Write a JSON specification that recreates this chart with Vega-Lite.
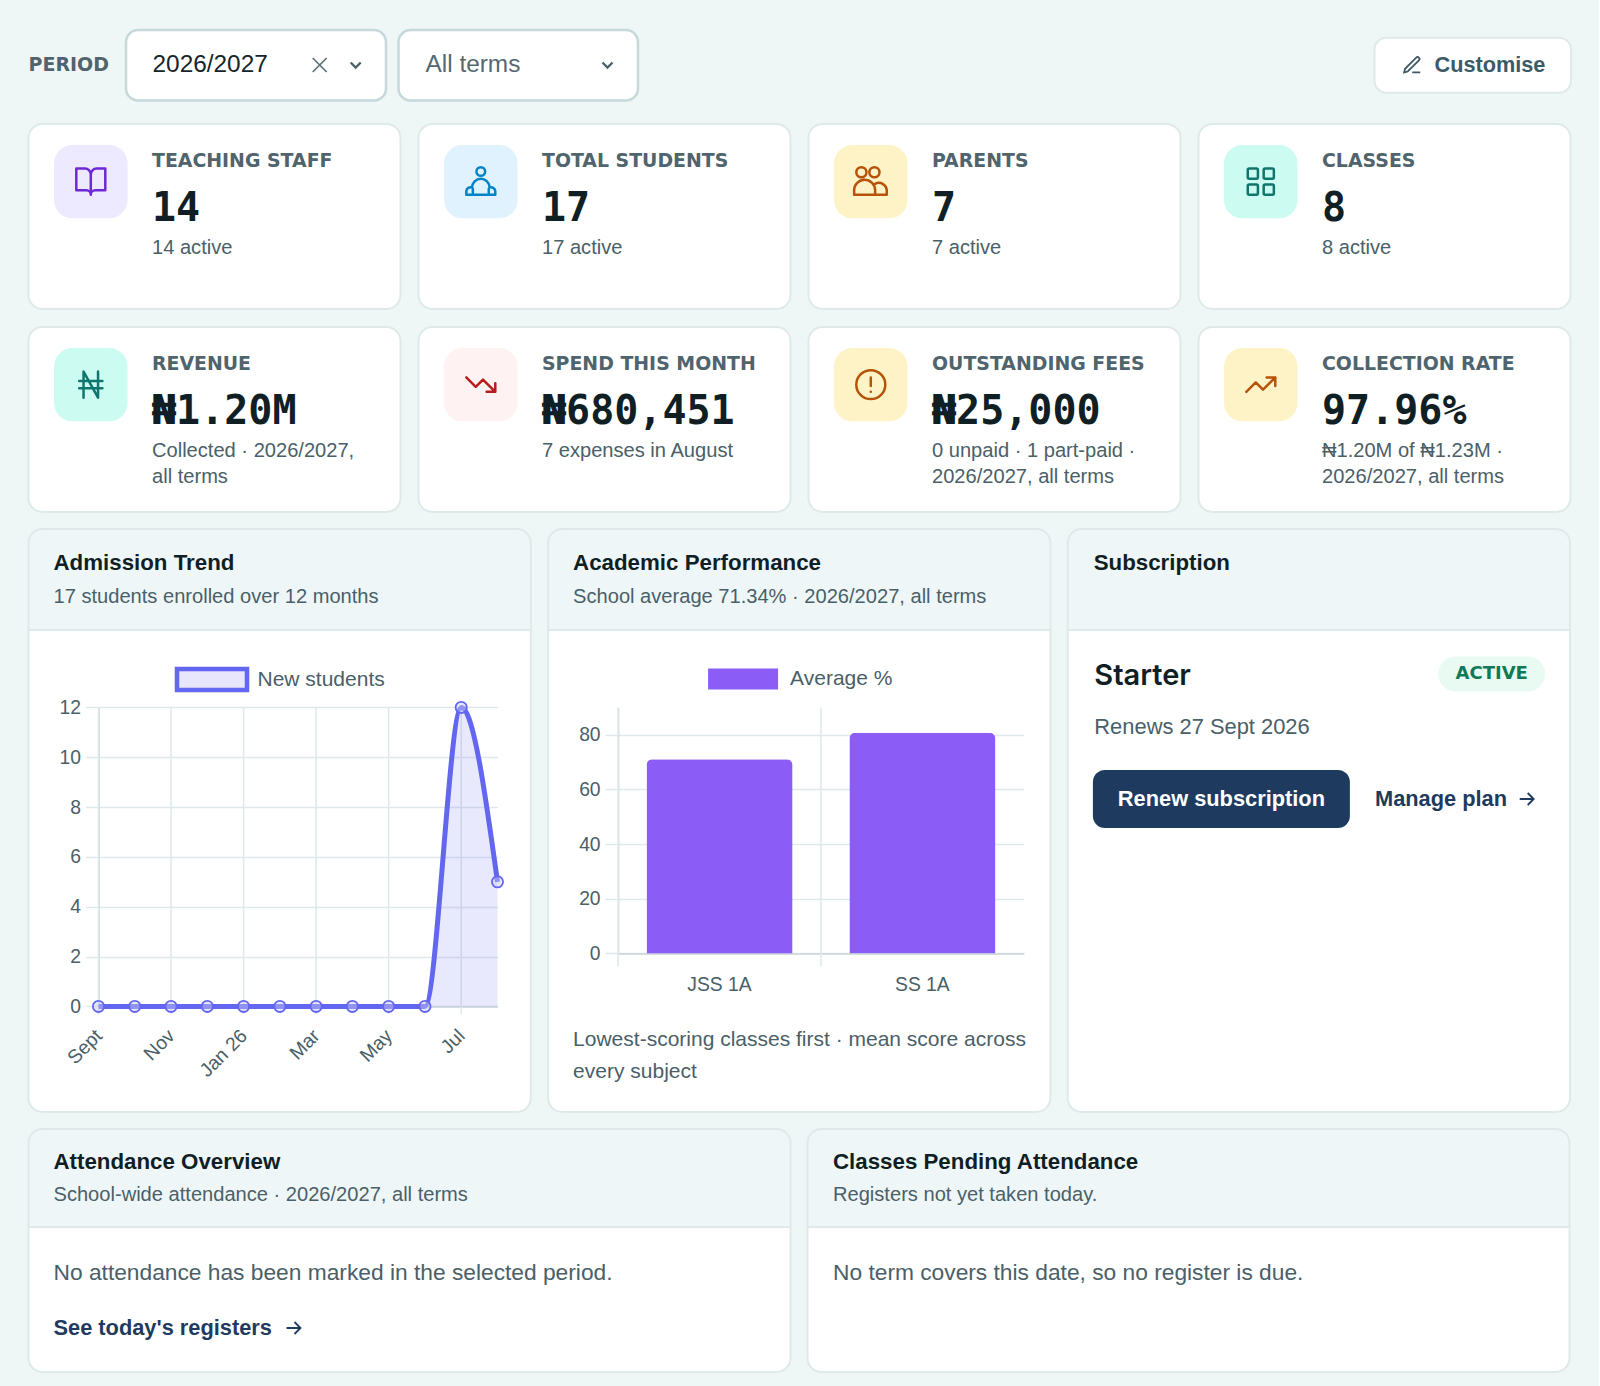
{
  "$schema": "https://vega.github.io/schema/vega-lite/v6.json",
  "description": "School dashboard overview",
  "background": "#eff7f6",
  "padding": {"left": 27.5, "top": 28, "right": 26, "bottom": 13},
  "config": {"font": "Liberation Sans", "view": {"stroke": null}, "scale": {"pointPadding": 0}},
  "resolve": {"scale": {"color": "independent", "stroke": "independent", "fill": "independent", "shape": "independent"}},
  "datasets": {
    "filters": [
      {"filter": "period", "label": "2026/2027"},
      {"filter": "term", "label": "All terms"}
    ],
    "kpi": [
      {"tier": "people", "slot": 1, "icon": "book", "tone": "violet", "label": "TEACHING STAFF", "value": "14", "note1": "14 active", "note2": ""},
      {"tier": "people", "slot": 2, "icon": "student", "tone": "sky", "label": "TOTAL STUDENTS", "value": "17", "note1": "17 active", "note2": ""},
      {"tier": "people", "slot": 3, "icon": "people", "tone": "amber", "label": "PARENTS", "value": "7", "note1": "7 active", "note2": ""},
      {"tier": "people", "slot": 4, "icon": "grid", "tone": "mint", "label": "CLASSES", "value": "8", "note1": "8 active", "note2": ""},
      {"tier": "money", "slot": 1, "icon": "naira", "tone": "mint", "label": "REVENUE", "value": "₦1.20M", "note1": "Collected · 2026/2027,", "note2": "all terms"},
      {"tier": "money", "slot": 2, "icon": "down", "tone": "rose", "label": "SPEND THIS MONTH", "value": "₦680,451", "note1": "7 expenses in August", "note2": ""},
      {"tier": "money", "slot": 3, "icon": "alert", "tone": "amber", "label": "OUTSTANDING FEES", "value": "₦25,000", "note1": "0 unpaid · 1 part-paid ·", "note2": "2026/2027, all terms"},
      {"tier": "money", "slot": 4, "icon": "up", "tone": "amber", "label": "COLLECTION RATE", "value": "97.96%", "note1": "₦1.20M of ₦1.23M ·", "note2": "2026/2027, all terms"}
    ],
    "panels": [
      {"panel": "admission", "title": "Admission Trend", "subtitle": "17 students enrolled over 12 months"},
      {"panel": "academic", "title": "Academic Performance", "subtitle": "School average 71.34% · 2026/2027, all terms"},
      {"panel": "subscription", "title": "Subscription", "subtitle": ""},
      {"panel": "attendance", "title": "Attendance Overview", "subtitle": "School-wide attendance · 2026/2027, all terms"},
      {"panel": "pending", "title": "Classes Pending Attendance", "subtitle": "Registers not yet taken today."}
    ],
    "admissions": [
      {"month": "Sept", "students": 0, "series": "New students"},
      {"month": "Oct", "students": 0, "series": "New students"},
      {"month": "Nov", "students": 0, "series": "New students"},
      {"month": "Dec", "students": 0, "series": "New students"},
      {"month": "Jan 26", "students": 0, "series": "New students"},
      {"month": "Feb", "students": 0, "series": "New students"},
      {"month": "Mar", "students": 0, "series": "New students"},
      {"month": "Apr", "students": 0, "series": "New students"},
      {"month": "May", "students": 0, "series": "New students"},
      {"month": "Jun", "students": 0, "series": "New students"},
      {"month": "Jul", "students": 12, "series": "New students"},
      {"month": "Aug", "students": 5, "series": "New students"}
    ],
    "classes": [
      {"class": "JSS 1A", "average": 71, "series": "Average %"},
      {"class": "SS 1A", "average": 80.7, "series": "Average %"}
    ],
    "subscription": [
      {"plan": "Starter", "status": "ACTIVE", "renews": "Renews 27 Sept 2026", "action": "Renew subscription", "link": "Manage plan"}
    ],
    "attendance": [
      {"message": "No attendance has been marked in the selected period.", "link": "See today's registers"}
    ],
    "pending": [
      {"message": "No term covers this date, so no register is due."}
    ]
  },
  "vconcat": [
    {
      "hconcat": [
        {
          "width": 84.5,
          "height": 70.5,
          "data": {"values": [{"label": "PERIOD"}]},
          "mark": {"type": "text", "align": "left", "baseline": "middle", "font": "DejaVu Sans", "fontWeight": "bold", "fontSize": 19, "color": "#4f646c"},
          "encoding": {
            "x": {"datum": "label", "scale": {"domain": ["label"], "range": [0, 0]}, "axis": null},
            "y": {"datum": "label", "scale": {"domain": ["label"], "range": [35, 35]}, "axis": null},
            "text": {"field": "label"}
          }
        },
        {
          "width": 260,
          "height": 70.5,
          "view": {"fill": "#ffffff", "stroke": "#c5d8da", "strokeWidth": 2.5, "cornerRadius": 12},
          "data": {"name": "filters"},
          "transform": [{"filter": "datum.filter == 'period'"}],
          "encoding": {
            "y": {"datum": "row", "scale": {"domain": ["row"], "range": [35, 35]}, "axis": null}
          },
          "layer": [
            {
              "mark": {"type": "text", "align": "left", "baseline": "middle", "fontSize": 24.4, "color": "#16252a"},
              "encoding": {
                "x": {"datum": "value", "scale": {"domain": ["value", "caret"], "range": [26.5, 229.7]}, "axis": null},
                "text": {"field": "label"}
              }
            },
            {
              "mark": {"type": "point", "shape": "M-7-7L7 7M-7 7L7-7", "size": 4, "filled": false, "opacity": 1, "color": "#5c7076", "strokeWidth": 1.7, "xOffset": -36},
              "encoding": {"x": {"datum": "caret", "scale": {"domain": ["value", "caret"], "range": [26.5, 229.7]}, "axis": null}}
            },
            {
              "mark": {"type": "point", "shape": "M-5-2.5L0 2.5L5-2.5", "size": 4, "filled": false, "opacity": 1, "color": "#4a616b", "strokeWidth": 2.3},
              "encoding": {"x": {"datum": "caret", "scale": {"domain": ["value", "caret"], "range": [26.5, 229.7]}, "axis": null}}
            }
          ]
        },
        {
          "width": 239.5,
          "height": 70.5,
          "view": {"fill": "#ffffff", "stroke": "#c5d8da", "strokeWidth": 2.5, "cornerRadius": 12},
          "data": {"name": "filters"},
          "transform": [{"filter": "datum.filter == 'term'"}],
          "encoding": {
            "y": {"datum": "row", "scale": {"domain": ["row"], "range": [35, 35]}, "axis": null}
          },
          "layer": [
            {
              "mark": {"type": "text", "align": "left", "baseline": "middle", "fontSize": 24.4, "color": "#54696f"},
              "encoding": {
                "x": {"datum": "value", "scale": {"domain": ["value", "caret"], "range": [27, 209]}, "axis": null},
                "text": {"field": "label"}
              }
            },
            {
              "mark": {"type": "point", "shape": "M-5-2.5L0 2.5L5-2.5", "size": 4, "filled": false, "opacity": 1, "color": "#4a616b", "strokeWidth": 2.3},
              "encoding": {"x": {"datum": "caret", "scale": {"domain": ["value", "caret"], "range": [27, 209]}, "axis": null}}
            }
          ]
        },
        {
          "width": 711,
          "height": 70.5,
          "data": {"values": [{"gap": ""}]},
          "mark": {"type": "text"}
        },
        {
          "width": 196.5,
          "height": 70.5,
          "data": {"values": [{"label": "Customise"}]},
          "encoding": {
            "y": {"datum": "button", "scale": {"domain": ["button"], "paddingInner": 0, "paddingOuter": 0.14}, "axis": null}
          },
          "layer": [
            {"mark": {"type": "rect", "fill": "#ffffff", "stroke": "#dfe9ea", "strokeWidth": 2, "cornerRadius": 12}},
            {
              "mark": {"type": "point", "shape": "M0 8H9M4.5-8.5A2.12 2.12 0 0 1 7.5-5.5L-5 7L-9 8L-8 4Z", "size": 3.2, "filled": false, "opacity": 1, "color": "#3f5a64", "strokeWidth": 1.8},
              "encoding": {"x": {"datum": "icon", "scale": {"domain": ["icon", "text"], "range": [37.7, 60]}, "axis": null}}
            },
            {
              "mark": {"type": "text", "align": "left", "baseline": "middle", "fontWeight": "bold", "fontSize": 21.7, "color": "#3c5a66"},
              "encoding": {
                "x": {"datum": "text", "scale": {"domain": ["icon", "text"], "range": [37.7, 60]}, "axis": null},
                "text": {"field": "label"}
              }
            }
          ]
        }
      ],
      "spacing": 12.5,
      "bounds": "flush"
    },
    {
      "vconcat": [
        {
          "data": {"name": "kpi"},
          "spacing": 18,
          "bounds": "flush",
          "facet": {
            "row": {"field": "tier", "type": "nominal", "sort": ["people", "money"], "header": null},
            "column": {"field": "slot", "type": "ordinal", "header": null}
          },
          "spec": {
            "width": 372,
            "height": 185,
            "view": {"fill": "#ffffff", "stroke": "#dfe9ea", "strokeWidth": 2, "cornerRadius": 14},
            "layer": [
              {
                "mark": {"type": "point", "shape": "M-0.5-1H0.5A0.5 0.5 0 0 1 1-0.5V0.5A0.5 0.5 0 0 1 0.5 1H-0.5A0.5 0.5 0 0 1-1 0.5V-0.5A0.5 0.5 0 0 1-0.5-1Z", "size": 5402, "filled": true, "opacity": 1, "strokeWidth": 0, "yOffset": -7.25},
                "encoding": {
                  "x": {"datum": "icon", "scale": {"domain": ["icon", "text"], "range": [62.3, 123.5]}, "axis": null},
                  "y": {"datum": "icon", "scale": {"domain": ["label", "icon", "value", "note1", "note2"], "range": [36.5, 150]}, "axis": null},
                  "fill": {"field": "tone", "type": "nominal", "legend": null, "scale": {"domain": ["violet", "sky", "amber", "mint", "rose"], "range": ["#ede9fe", "#e0f2fe", "#fef3c7", "#ccfbf1", "#fef2f2"]}}
                }
              },
              {
                "mark": {"type": "point", "size": 8.4, "filled": false, "opacity": 1, "strokeWidth": 2.5, "strokeCap": "round", "strokeJoin": "round", "yOffset": -7.25},
                "encoding": {
                  "x": {"datum": "icon", "scale": {"domain": ["icon", "text"], "range": [62.3, 123.5]}, "axis": null},
                  "y": {"datum": "icon", "scale": {"domain": ["label", "icon", "value", "note1", "note2"], "range": [36.5, 150]}, "axis": null},
                  "stroke": {"field": "tone", "type": "nominal", "legend": null, "scale": {"domain": ["violet", "sky", "amber", "mint", "rose"], "range": ["#6d28d9", "#0284c7", "#b45309", "#0f766e", "#b91c1c"]}},
                  "shape": {
                    "field": "icon",
                    "type": "nominal",
                    "legend": null,
                    "scale": {
                      "domain": ["book", "student", "people", "grid", "naira", "down", "alert", "up"],
                      "range": [
                        "M-10-9H-4A4 4 0 0 1 0-5V9A3 3 0 0 0-3 6H-10ZM10-9H4A4 4 0 0 0 0-5V9A3 3 0 0 1 3 6H10Z",
                        "M3-7A3 3 0 1 1-3-7A3 3 0 1 1 3-7ZM-10 9H10V6.5A3 3 0 0 0 6 4A6 6 0 0 0-6 4A3 3 0 0 0-10 6.5ZM-5.5 9V5M5.5 9V5",
                        "M-3-6.5A3.5 3.5 0 1 1-10-6.5A3.5 3.5 0 1 1-3-6.5ZM6-6.5A3.5 3.5 0 1 1-1-6.5A3.5 3.5 0 1 1 6-6.5ZM-11.5 9H3V6A7.2 7.2 0 0 0-11.5 6ZM3 9H11V6.5A5.5 5.5 0 0 0 3 1.5",
                        "M-8-9H-3A1 1 0 0 1-2-8V-3A1 1 0 0 1-3-2H-8A1 1 0 0 1-9-3V-8A1 1 0 0 1-8-9ZM3-9H8A1 1 0 0 1 9-8V-3A1 1 0 0 1 8-2H3A1 1 0 0 1 2-3V-8A1 1 0 0 1 3-9ZM-8 2H-3A1 1 0 0 1-2 3V8A1 1 0 0 1-3 9H-8A1 1 0 0 1-9 8V3A1 1 0 0 1-8 2ZM3 2H8A1 1 0 0 1 9 3V8A1 1 0 0 1 8 9H3A1 1 0 0 1 2 8V3A1 1 0 0 1 3 2Z",
                        "M-5 9V-9L5 9V-9M-8-2.5H8M-8 2.5H8",
                        "M10 5L1.5-3.5L-3.5 1.5L-10-5M4 5H10V-1",
                        "M10 0A10 10 0 1 1-10 0A10 10 0 1 1 10 0ZM0-5V1M0 5H0.01",
                        "M10-5L1.5 3.5L-3.5-1.5L-10 5M4-5H10V1"
                      ]
                    }
                  }
                }
              },
              {
                "mark": {"type": "text", "align": "left", "baseline": "middle", "font": "DejaVu Sans", "fontWeight": "bold", "fontSize": 18.9, "color": "#4f646c"},
                "encoding": {
                  "x": {"datum": "text", "scale": {"domain": ["icon", "text"], "range": [62.3, 123.5]}, "axis": null},
                  "y": {"datum": "label", "scale": {"domain": ["label", "icon", "value", "note1", "note2"], "range": [36.5, 150]}, "axis": null},
                  "text": {"field": "label"}
                }
              },
              {
                "mark": {"type": "text", "align": "left", "baseline": "middle", "font": "DejaVu Sans Mono", "fontWeight": "bold", "fontSize": 40, "color": "#0f1f24", "dy": -8},
                "encoding": {
                  "x": {"datum": "text", "scale": {"domain": ["icon", "text"], "range": [62.3, 123.5]}, "axis": null},
                  "y": {"datum": "value", "scale": {"domain": ["label", "icon", "value", "note1", "note2"], "range": [36.5, 150]}, "axis": null},
                  "text": {"field": "value"}
                }
              },
              {
                "mark": {"type": "text", "align": "left", "baseline": "middle", "fontSize": 20.1, "color": "#4a6068", "dy": 2},
                "encoding": {
                  "x": {"datum": "text", "scale": {"domain": ["icon", "text"], "range": [62.3, 123.5]}, "axis": null},
                  "y": {"datum": "note1", "scale": {"domain": ["label", "icon", "value", "note1", "note2"], "range": [36.5, 150]}, "axis": null},
                  "text": {"field": "note1"}
                }
              },
              {
                "mark": {"type": "text", "align": "left", "baseline": "middle", "fontSize": 20.1, "color": "#4a6068"},
                "encoding": {
                  "x": {"datum": "text", "scale": {"domain": ["icon", "text"], "range": [62.3, 123.5]}, "axis": null},
                  "y": {"datum": "note2", "scale": {"domain": ["label", "icon", "value", "note1", "note2"], "range": [36.5, 150]}, "axis": null},
                  "text": {"field": "note2"}
                }
              }
            ]
          }
        },
        {
          "hconcat": [
            {
              "vconcat": [
                {
                  "width": 502.3,
                  "height": 101,
                  "view": {"fill": "#eff6f8", "stroke": "#dfe9ea", "strokeWidth": 2, "cornerRadiusTopLeft": 14, "cornerRadiusTopRight": 14},
                  "data": {"name": "panels"},
                  "transform": [{"filter": "datum.panel == 'admission'"}],
                  "encoding": {
                    "x": {"datum": "text", "scale": {"domain": ["text"], "range": [25, 25]}, "axis": null}
                  },
                  "layer": [
                    {
                      "mark": {"type": "text", "align": "left", "baseline": "middle", "fontWeight": "bold", "fontSize": 22.3, "color": "#0f1f24"},
                      "encoding": {
                        "y": {"datum": "title", "scale": {"domain": ["title", "subtitle"], "range": [33.5, 67.5]}, "axis": null},
                        "text": {"field": "title"}
                      }
                    },
                    {
                      "mark": {"type": "text", "align": "left", "baseline": "middle", "fontSize": 20.1, "color": "#4a6068"},
                      "encoding": {
                        "y": {"datum": "subtitle", "scale": {"domain": ["title", "subtitle"], "range": [33.5, 67.5]}, "axis": null},
                        "text": {"field": "subtitle"}
                      }
                    }
                  ]
                },
                {
                  "width": 502.3,
                  "height": 482,
                  "view": {"fill": "#ffffff", "stroke": "#dfe9ea", "strokeWidth": 2, "cornerRadiusBottomLeft": 14, "cornerRadiusBottomRight": 14},
                  "data": {"name": "admissions"},
                  "encoding": {
                    "x": {
                      "field": "month",
                      "type": "ordinal",
                      "scale": {
                        "type": "point",
                        "domain": ["Sept", "Oct", "Nov", "Dec", "Jan 26", "Feb", "Mar", "Apr", "May", "Jun", "Jul", "Aug"],
                        "range": [70, 469]
                      },
                      "axis": {
                        "title": null,
                        "offset": -105.6,
                        "values": ["Sept", "Nov", "Jan 26", "Mar", "May", "Jul"],
                        "labelAngle": -45,
                        "labelAlign": "right",
                        "labelBaseline": "middle",
                        "labelFontSize": 19.3,
                        "labelColor": "#4a6068",
                        "labelPadding": 26,
                        "ticks": false,
                        "domainColor": "#c9d5d8",
                        "domainWidth": 1.5,
                        "grid": false
                      }
                    },
                    "y": {
                      "field": "students",
                      "type": "quantitative",
                      "scale": {"domain": [0, 12], "range": [376.4, 77.4]},
                      "axis": {
                        "title": null,
                        "offset": -70,
                        "values": [0, 2, 4, 6, 8, 10, 12],
                        "labelFontSize": 19.3,
                        "labelColor": "#4a6068",
                        "labelPadding": 5,
                        "tickSize": 13,
                        "tickColor": "#dfe8ea",
                        "tickWidth": 1.5,
                        "domainColor": "#c9d5d8",
                        "domainWidth": 1.5,
                        "grid": true,
                        "gridColor": "#dfe8ea",
                        "gridWidth": 1.5
                      }
                    }
                  },
                  "layer": [
                    {
                      "transform": [{"filter": {"field": "month", "oneOf": ["Sept", "Nov", "Jan 26", "Mar", "May", "Jul"]}}],
                      "mark": {"type": "rule", "color": "#dfe8ea", "strokeWidth": 1.5},
                      "encoding": {
                        "y": {"datum": -0.32, "type": "quantitative", "title": null, "scale": {"domain": [0, 12], "range": [376.4, 77.4]}},
                        "y2": {"datum": 12}
                      }
                    },
                    {"mark": {"type": "area", "interpolate": "monotone", "color": "#6366f1", "opacity": 0.14}},
                    {
                      "mark": {"type": "line", "interpolate": "monotone", "strokeWidth": 5},
                      "encoding": {
                        "stroke": {
                          "field": "series",
                          "type": "nominal",
                          "scale": {"range": ["#6366f1"]},
                          "legend": {
                            "title": null,
                            "orient": "none",
                            "legendX": 146,
                            "legendY": 12,
                            "symbolType": "M-1-0.3H1V0.3H-1Z",
                            "symbolSize": 4900,
                            "symbolFillColor": "#e7e6fc",
                            "symbolStrokeWidth": 4.5,
                            "labelOffset": 8,
                            "labelFontSize": 21,
                            "labelColor": "#4a6068"
                          }
                        }
                      }
                    },
                    {"mark": {"type": "point", "filled": true, "size": 125, "opacity": 1, "fill": "#c9c9f9", "fillOpacity": 0.45, "stroke": "#6366f1", "strokeWidth": 1.8}}
                  ]
                }
              ],
              "spacing": 0,
              "bounds": "flush",
              "resolve": {"scale": {"stroke": "independent", "color": "independent"}}
            },
            {
              "vconcat": [
                {
                  "width": 502.3,
                  "height": 101,
                  "view": {"fill": "#eff6f8", "stroke": "#dfe9ea", "strokeWidth": 2, "cornerRadiusTopLeft": 14, "cornerRadiusTopRight": 14},
                  "data": {"name": "panels"},
                  "transform": [{"filter": "datum.panel == 'academic'"}],
                  "encoding": {
                    "x": {"datum": "text", "scale": {"domain": ["text"], "range": [25, 25]}, "axis": null}
                  },
                  "layer": [
                    {
                      "mark": {"type": "text", "align": "left", "baseline": "middle", "fontWeight": "bold", "fontSize": 22.3, "color": "#0f1f24"},
                      "encoding": {
                        "y": {"datum": "title", "scale": {"domain": ["title", "subtitle"], "range": [33.5, 67.5]}, "axis": null},
                        "text": {"field": "title"}
                      }
                    },
                    {
                      "mark": {"type": "text", "align": "left", "baseline": "middle", "fontSize": 20.1, "color": "#4a6068"},
                      "encoding": {
                        "y": {"datum": "subtitle", "scale": {"domain": ["title", "subtitle"], "range": [33.5, 67.5]}, "axis": null},
                        "text": {"field": "subtitle"}
                      }
                    }
                  ]
                },
                {
                  "width": 502.3,
                  "height": 482,
                  "view": {"fill": "#ffffff", "stroke": "#dfe9ea", "strokeWidth": 2, "cornerRadiusBottomLeft": 14, "cornerRadiusBottomRight": 14},
                  "data": {"name": "classes"},
                  "encoding": {
                    "x": {
                      "field": "class",
                      "type": "nominal",
                      "scale": {"type": "band", "domain": ["JSS 1A", "SS 1A"], "paddingInner": 0, "paddingOuter": 0, "range": [70, 475.7]},
                      "axis": {
                        "title": ["Lowest-scoring classes first · mean score across", "every subject"],
                        "titleAlign": "left",
                        "titleBaseline": "middle",
                        "titleAnchor": null,
                        "titleX": 24.5,
                        "titleY": 86,
                        "titleFontWeight": "normal",
                        "titleFontSize": 21,
                        "titleColor": "#4a6068",
                        "titleLineHeight": 32.6,
                        "offset": -158.6,
                        "labelAngle": 0,
                        "labelFontSize": 19.3,
                        "labelColor": "#4a6068",
                        "labelPadding": 22,
                        "ticks": false,
                        "domainColor": "#c9d5d8",
                        "domainWidth": 1.5,
                        "grid": false
                      }
                    },
                    "y": {
                      "field": "average",
                      "type": "quantitative",
                      "scale": {"domain": [0, 90], "range": [323.4, 77.4]},
                      "axis": {
                        "title": null,
                        "offset": -70,
                        "values": [0, 20, 40, 60, 80],
                        "labelFontSize": 19.3,
                        "labelColor": "#4a6068",
                        "labelPadding": 5,
                        "tickSize": 13,
                        "tickColor": "#dfe8ea",
                        "tickWidth": 1.5,
                        "domainColor": "#c9d5d8",
                        "domainWidth": 1.5,
                        "grid": true,
                        "gridColor": "#dfe8ea",
                        "gridWidth": 1.5
                      }
                    }
                  },
                  "layer": [
                    {
                      "mark": {"type": "rule", "color": "#dfe8ea", "strokeWidth": 1.5},
                      "encoding": {
                        "x": {"field": "class", "type": "nominal", "bandPosition": 0},
                        "y": {"datum": -4.76, "type": "quantitative", "title": null, "scale": {"domain": [0, 90], "range": [323.4, 77.4]}},
                        "y2": {"datum": 90}
                      }
                    },
                    {
                      "mark": {"type": "bar", "width": {"band": 0.72}, "cornerRadiusTopLeft": 6, "cornerRadiusTopRight": 6},
                      "encoding": {
                        "color": {
                          "field": "series",
                          "type": "nominal",
                          "scale": {"range": ["#8b5cf6"]},
                          "legend": {
                            "title": null,
                            "orient": "none",
                            "legendX": 159,
                            "legendY": 13,
                            "symbolType": "M-1-0.3H1V0.3H-1Z",
                            "symbolSize": 4900,
                            "labelOffset": 11,
                            "labelFontSize": 21,
                            "labelColor": "#4a6068"
                          }
                        }
                      }
                    }
                  ]
                }
              ],
              "spacing": 0,
              "bounds": "flush",
              "resolve": {"scale": {"stroke": "independent", "color": "independent"}}
            },
            {
              "vconcat": [
                {
                  "width": 502.3,
                  "height": 101,
                  "view": {"fill": "#eff6f8", "stroke": "#dfe9ea", "strokeWidth": 2, "cornerRadiusTopLeft": 14, "cornerRadiusTopRight": 14},
                  "data": {"name": "panels"},
                  "transform": [{"filter": "datum.panel == 'subscription'"}],
                  "mark": {"type": "text", "align": "left", "baseline": "middle", "fontWeight": "bold", "fontSize": 22.3, "color": "#0f1f24"},
                  "encoding": {
                    "x": {"datum": "text", "scale": {"domain": ["text"], "range": [26, 26]}, "axis": null},
                    "y": {"datum": "title", "scale": {"domain": ["title", "subtitle"], "range": [33.5, 67.5]}, "axis": null},
                    "text": {"field": "title"}
                  }
                },
                {
                  "width": 502.3,
                  "height": 482,
                  "view": {"fill": "#ffffff", "stroke": "#dfe9ea", "strokeWidth": 2, "cornerRadiusBottomLeft": 14, "cornerRadiusBottomRight": 14},
                  "data": {"name": "subscription"},
                  "layer": [
                    {
                      "mark": {"type": "text", "align": "left", "baseline": "middle", "font": "Inter", "fontWeight": 600, "fontSize": 29, "color": "#0f1f24", "dy": 1.5},
                      "encoding": {
                        "x": {"datum": "left", "scale": {"domain": ["left", "button", "link", "pill", "arrow"], "range": [26.6, 459]}, "axis": null},
                        "y": {"datum": "head", "scale": {"domain": ["head", "renew", "action"], "range": [44, 169]}, "axis": null},
                        "text": {"field": "plan"}
                      }
                    },
                    {
                      "mark": {"type": "point", "shape": "M-36-17.5H36A17.5 17.5 0 0 1 36 17.5H-36A17.5 17.5 0 0 1-36-17.5Z", "size": 4, "filled": true, "opacity": 1, "color": "#e9faf3", "xOffset": -35},
                      "encoding": {
                        "x": {"datum": "arrow", "scale": {"domain": ["left", "button", "link", "pill", "arrow"], "range": [26.6, 459]}, "axis": null},
                        "y": {"datum": "head", "scale": {"domain": ["head", "renew", "action"], "range": [44, 169]}, "axis": null}
                      }
                    },
                    {
                      "mark": {"type": "text", "align": "center", "baseline": "middle", "font": "DejaVu Sans", "fontWeight": "bold", "fontSize": 18, "color": "#0f7a55", "dx": -35},
                      "encoding": {
                        "x": {"datum": "arrow", "scale": {"domain": ["left", "button", "link", "pill", "arrow"], "range": [26.6, 459]}, "axis": null},
                        "y": {"datum": "head", "scale": {"domain": ["head", "renew", "action"], "range": [44, 169]}, "axis": null},
                        "text": {"field": "status"}
                      }
                    },
                    {
                      "mark": {"type": "text", "align": "left", "baseline": "middle", "fontSize": 21.9, "color": "#4a6068", "dy": -9.5},
                      "encoding": {
                        "x": {"datum": "left", "scale": {"domain": ["left", "button", "link", "pill", "arrow"], "range": [26.6, 459]}, "axis": null},
                        "y": {"datum": "renew", "scale": {"domain": ["head", "renew", "action"], "range": [44, 169]}, "axis": null},
                        "text": {"field": "renews"}
                      }
                    },
                    {
                      "mark": {"type": "point", "shape": "M-116-29H116A12 12 0 0 1 128.5-17V17A12 12 0 0 1 116 29H-116A12 12 0 0 1-128.5 17V-17A12 12 0 0 1-116-29Z", "size": 4, "filled": true, "opacity": 1, "color": "#1f3a5f", "xOffset": 19},
                      "encoding": {
                        "x": {"datum": "button", "scale": {"domain": ["left", "button", "link", "pill", "arrow"], "range": [26.6, 459]}, "axis": null},
                        "y": {"datum": "action", "scale": {"domain": ["head", "renew", "action"], "range": [44, 169]}, "axis": null}
                      }
                    },
                    {
                      "mark": {"type": "text", "align": "center", "baseline": "middle", "fontWeight": "bold", "fontSize": 21.8, "color": "#ffffff", "dx": 19},
                      "encoding": {
                        "x": {"datum": "button", "scale": {"domain": ["left", "button", "link", "pill", "arrow"], "range": [26.6, 459]}, "axis": null},
                        "y": {"datum": "action", "scale": {"domain": ["head", "renew", "action"], "range": [44, 169]}, "axis": null},
                        "text": {"field": "action"}
                      }
                    },
                    {
                      "mark": {"type": "text", "align": "left", "baseline": "middle", "fontWeight": "bold", "fontSize": 21.8, "color": "#1f3a5f", "dx": 64.5},
                      "encoding": {
                        "x": {"datum": "link", "scale": {"domain": ["left", "button", "link", "pill", "arrow"], "range": [26.6, 459]}, "axis": null},
                        "y": {"datum": "action", "scale": {"domain": ["head", "renew", "action"], "range": [44, 169]}, "axis": null},
                        "text": {"field": "link"}
                      }
                    },
                    {
                      "mark": {"type": "point", "shape": "M-7 0H7M1-6L7 0L1 6", "size": 4, "filled": false, "opacity": 1, "color": "#1f3a5f", "strokeWidth": 1.8},
                      "encoding": {
                        "x": {"datum": "arrow", "scale": {"domain": ["left", "button", "link", "pill", "arrow"], "range": [26.6, 459]}, "axis": null},
                        "y": {"datum": "action", "scale": {"domain": ["head", "renew", "action"], "range": [44, 169]}, "axis": null}
                      }
                    }
                  ]
                }
              ],
              "spacing": 0,
              "bounds": "flush"
            }
          ],
          "spacing": 14.6,
          "resolve": {"scale": {"stroke": "independent", "color": "independent"}}
        },
        {
          "hconcat": [
            {
              "vconcat": [
                {
                  "width": 762,
                  "height": 98,
                  "view": {"fill": "#eff6f8", "stroke": "#dfe9ea", "strokeWidth": 2, "cornerRadiusTopLeft": 14, "cornerRadiusTopRight": 14},
                  "data": {"name": "panels"},
                  "transform": [{"filter": "datum.panel == 'attendance'"}],
                  "encoding": {
                    "x": {"datum": "text", "scale": {"domain": ["text"], "range": [25, 25]}, "axis": null}
                  },
                  "layer": [
                    {
                      "mark": {"type": "text", "align": "left", "baseline": "middle", "fontWeight": "bold", "fontSize": 22.3, "color": "#0f1f24"},
                      "encoding": {
                        "y": {"datum": "title", "scale": {"domain": ["title", "subtitle"], "range": [32.5, 66]}, "axis": null},
                        "text": {"field": "title"}
                      }
                    },
                    {
                      "mark": {"type": "text", "align": "left", "baseline": "middle", "fontSize": 20.1, "color": "#4a6068"},
                      "encoding": {
                        "y": {"datum": "subtitle", "scale": {"domain": ["title", "subtitle"], "range": [32.5, 66]}, "axis": null},
                        "text": {"field": "subtitle"}
                      }
                    }
                  ]
                },
                {
                  "width": 762,
                  "height": 145,
                  "view": {"fill": "#ffffff", "stroke": "#dfe9ea", "strokeWidth": 2, "cornerRadiusBottomLeft": 14, "cornerRadiusBottomRight": 14},
                  "data": {"name": "attendance"},
                  "layer": [
                    {
                      "mark": {"type": "text", "align": "left", "baseline": "middle", "fontSize": 22.75, "color": "#4a6068"},
                      "encoding": {
                        "x": {"datum": "text", "scale": {"domain": ["text", "arrow"], "range": [25, 265]}, "axis": null},
                        "y": {"datum": "message", "scale": {"domain": ["message", "link"], "range": [46, 101]}, "axis": null},
                        "text": {"field": "message"}
                      }
                    },
                    {
                      "mark": {"type": "text", "align": "left", "baseline": "middle", "fontWeight": "bold", "fontSize": 21.8, "color": "#1f3a5f"},
                      "encoding": {
                        "x": {"datum": "text", "scale": {"domain": ["text", "arrow"], "range": [25, 265]}, "axis": null},
                        "y": {"datum": "link", "scale": {"domain": ["message", "link"], "range": [46, 101]}, "axis": null},
                        "text": {"field": "link"}
                      }
                    },
                    {
                      "mark": {"type": "point", "shape": "M-7 0H7M1-6L7 0L1 6", "size": 4, "filled": false, "opacity": 1, "color": "#1f3a5f", "strokeWidth": 1.8},
                      "encoding": {
                        "x": {"datum": "arrow", "scale": {"domain": ["text", "arrow"], "range": [25, 265]}, "axis": null},
                        "y": {"datum": "link", "scale": {"domain": ["message", "link"], "range": [46, 101]}, "axis": null}
                      }
                    }
                  ]
                }
              ],
              "spacing": 0,
              "bounds": "flush"
            },
            {
              "vconcat": [
                {
                  "width": 762,
                  "height": 98,
                  "view": {"fill": "#eff6f8", "stroke": "#dfe9ea", "strokeWidth": 2, "cornerRadiusTopLeft": 14, "cornerRadiusTopRight": 14},
                  "data": {"name": "panels"},
                  "transform": [{"filter": "datum.panel == 'pending'"}],
                  "encoding": {
                    "x": {"datum": "text", "scale": {"domain": ["text"], "range": [25.5, 25.5]}, "axis": null}
                  },
                  "layer": [
                    {
                      "mark": {"type": "text", "align": "left", "baseline": "middle", "fontWeight": "bold", "fontSize": 22.3, "color": "#0f1f24"},
                      "encoding": {
                        "y": {"datum": "title", "scale": {"domain": ["title", "subtitle"], "range": [32.5, 66]}, "axis": null},
                        "text": {"field": "title"}
                      }
                    },
                    {
                      "mark": {"type": "text", "align": "left", "baseline": "middle", "fontSize": 20.1, "color": "#4a6068"},
                      "encoding": {
                        "y": {"datum": "subtitle", "scale": {"domain": ["title", "subtitle"], "range": [32.5, 66]}, "axis": null},
                        "text": {"field": "subtitle"}
                      }
                    }
                  ]
                },
                {
                  "width": 762,
                  "height": 145,
                  "view": {"fill": "#ffffff", "stroke": "#dfe9ea", "strokeWidth": 2, "cornerRadiusBottomLeft": 14, "cornerRadiusBottomRight": 14},
                  "data": {"name": "pending"},
                  "mark": {"type": "text", "align": "left", "baseline": "middle", "fontSize": 22.75, "color": "#4a6068"},
                  "encoding": {
                    "x": {"datum": "text", "scale": {"domain": ["text"], "range": [25.5, 25.5]}, "axis": null},
                    "y": {"datum": "message", "scale": {"domain": ["message"], "range": [46, 46]}, "axis": null},
                    "text": {"field": "message"}
                  }
                }
              ],
              "spacing": 0,
              "bounds": "flush"
            }
          ],
          "spacing": 15
        }
      ],
      "spacing": 15,
      "resolve": {"scale": {"color": "independent", "stroke": "independent", "fill": "independent", "shape": "independent"}}
    }
  ],
  "spacing": 21
}
